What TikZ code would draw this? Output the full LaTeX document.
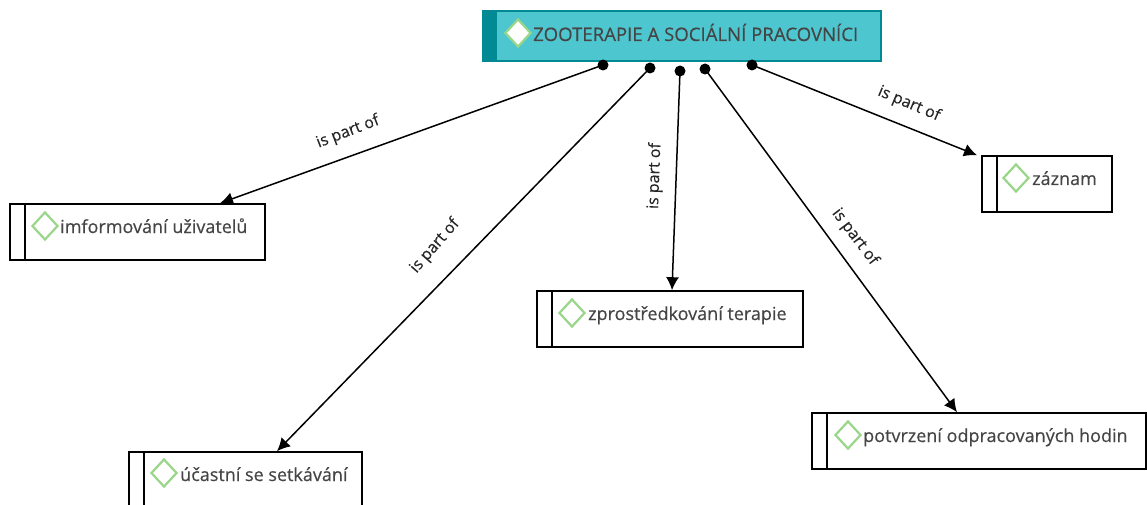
\documentclass[tikz,border=0pt]{standalone}
\usepackage{fontspec}
\setmainfont[FakeBold=0.35]{Open Sans}
\usetikzlibrary{arrows.meta,shapes.geometric}
\definecolor{headfill}{HTML}{4EC6D0}
\definecolor{headdark}{HTML}{028A94}
\definecolor{marker}{HTML}{9AD68A}
\definecolor{inktext}{HTML}{454545}
\tikzset{
	itembox/.style={draw=black, line width=1.6pt, fill=white, minimum height=56pt, inner sep=0pt},
	headbox/.style={draw=headdark, line width=1.2pt, fill=headfill, minimum width=398pt, minimum height=50pt, inner sep=0pt},
	marksign/.style={diamond, draw=marker, line width=2.2pt, fill=white, minimum width=26pt, minimum height=28pt, inner sep=0pt},
	itemtext/.style={anchor=base west, inner sep=0pt, text=inktext, font=\fontsize{18}{20}\selectfont},
	relabel/.style={inner sep=0pt, font=\fontsize{16}{18}\selectfont, text=black!85},
	enddot/.style={circle, fill=black, minimum size=11pt, inner sep=0pt},
	relation/.style={line width=1.5pt, -{Latex[length=13pt,width=13pt]}, shorten <=-1pt}
}
\begin{document}
\begin{tikzpicture}[x=1pt, y=-1pt]
	\useasboundingbox (0,0) rectangle (1147,505);
	\clip (0,0) rectangle (1147,505);
	% top box
	\node[headbox] (head) at (682,36) {};
	\fill[headdark] (head.north west) rectangle ([xshift=15pt]head.south west);
	\node[marksign] (headmark) at (518,33) {};
	\node[itemtext, font=\fontsize{18.6}{20}\selectfont] (headtext) at (533,41) {ZOOTERAPIE A SOCIÁLNÍ PRACOVNÍCI};
	% lower boxes
	\node[itembox, minimum width=255pt] (imf) at (137.5,232) {};
	\draw[line width=1.6pt] ([xshift=15.5pt]imf.north west) -- ([xshift=15.5pt]imf.south west);
	\node[marksign] (imfmark) at (45,226) {};
	\node[itemtext] (imftext) at (60,233) {imformování uživatelů};
	\node[itembox, minimum width=233pt] (ucast) at (245.5,480) {};
	\draw[line width=1.6pt] ([xshift=15.5pt]ucast.north west) -- ([xshift=15.5pt]ucast.south west);
	\node[marksign] (ucastmark) at (164,473) {};
	\node[itemtext] (ucasttext) at (180,481) {účastní se setkávání};
	\node[itembox, minimum width=266pt] (zpro) at (670,319) {};
	\draw[line width=1.6pt] ([xshift=15.5pt]zpro.north west) -- ([xshift=15.5pt]zpro.south west);
	\node[marksign] (zpromark) at (572,313) {};
	\node[itemtext] (zprotext) at (588,320) {zprostředkování terapie};
	\node[itembox, minimum width=334pt] (potv) at (979,441) {};
	\draw[line width=1.6pt] ([xshift=15.5pt]potv.north west) -- ([xshift=15.5pt]potv.south west);
	\node[marksign] (potvmark) at (848,435) {};
	\node[itemtext] (potvtext) at (863,442) {potvrzení odpracovaných hodin};
	\node[itembox, minimum width=130pt] (zaz) at (1047,184) {};
	\draw[line width=1.6pt] ([xshift=15.5pt]zaz.north west) -- ([xshift=15.5pt]zaz.south west);
	\node[marksign] (zazmark) at (1016,178) {};
	\node[itemtext] (zaztext) at (1032,185) {záznam};
	% connectors
	\node[enddot] (dotimf) at (603,65) {};
	\node[enddot] (dotucast) at (650,68) {};
	\node[enddot] (dotzpro) at (680,71) {};
	\node[enddot] (dotpotv) at (705,69) {};
	\node[enddot] (dotzaz) at (752,65) {};
	\draw[relation] (dotimf.center) -- ([xshift=82.5pt]imf.north);
	\draw[relation] (dotucast.center) -- ([xshift=31.5pt]ucast.north);
	\draw[relation] (dotzpro.center) -- ([xshift=2pt]zpro.north);
	\draw[relation] (dotpotv.center) -- ([xshift=-22pt]potv.north);
	\draw[relation] (dotzaz.center) -- ([xshift=-70pt]zaz.north);
	\node[relabel, rotate=21] (lblimf) at (348,132) {is part of};
	\node[relabel, rotate=49] (lblucast) at (435,246) {is part of};
	\node[relabel, rotate=88] (lblzpro) at (655,176) {is part of};
	\node[relabel, rotate=-53] (lblpotv) at (855,237) {is part of};
	\node[relabel, rotate=-23] (lblzaz) at (909,104) {is part of};
\end{tikzpicture}
\end{document}
